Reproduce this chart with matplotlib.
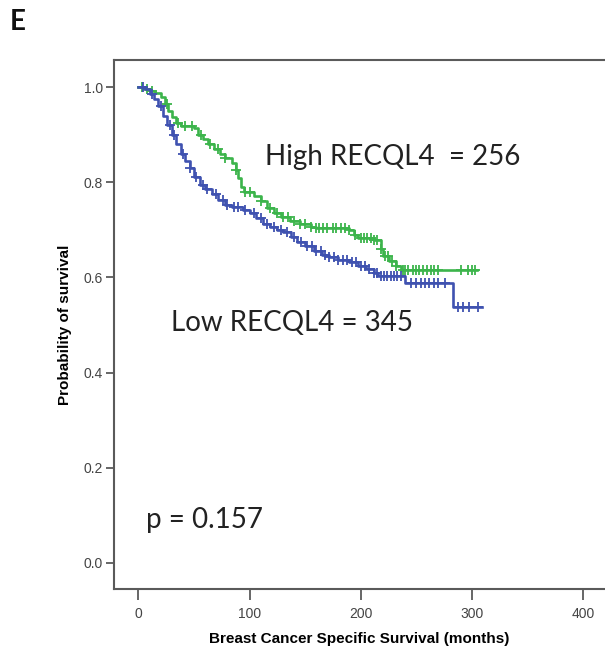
import numpy as np
import matplotlib
matplotlib.use("Agg")
import matplotlib.pyplot as plt

# Kaplan-Meier step points (months, survival probability)
high_times = [0, 5, 10, 15, 20, 24, 27, 30, 34, 38, 50, 54, 58, 63, 68, 73, 78, 84, 88, 90,
              92, 95, 104, 110, 116, 122, 128, 136, 145, 155, 160, 190, 194, 198, 212, 218,
              220, 226, 232, 236]
high_surv = [1.0, 0.996, 0.992, 0.988, 0.98, 0.965, 0.95, 0.938, 0.925, 0.918, 0.915, 0.90,
             0.89, 0.88, 0.87, 0.86, 0.85, 0.84, 0.825, 0.81, 0.79, 0.78, 0.772, 0.76, 0.745,
             0.735, 0.726, 0.718, 0.712, 0.706, 0.703, 0.70, 0.69, 0.683, 0.678, 0.66, 0.645,
             0.635, 0.625, 0.615]
high_end = 305
high_censor = [3, 8, 12, 26, 36, 42, 48, 56, 64, 72, 78, 88, 96, 100, 110, 118, 125, 130, 135,
               140, 145, 150, 155, 160, 163, 166, 170, 175, 178, 182, 186, 190, 195, 200, 203,
               206, 209, 212, 215, 218, 222, 225, 228, 232, 238, 240, 243, 247, 250, 253, 256,
               260, 263, 266, 270, 290, 297, 300, 303]

low_times = [0, 6, 10, 14, 18, 22, 26, 30, 34, 38, 42, 46, 50, 55, 60, 66, 72, 78, 84, 94,
             100, 106, 112, 118, 125, 130, 137, 143, 150, 158, 165, 172, 180, 190, 198, 205,
             212, 216, 240, 283]
low_surv = [1.0, 0.996, 0.985, 0.975, 0.96, 0.94, 0.92, 0.90, 0.88, 0.86, 0.845, 0.83, 0.812,
            0.795, 0.785, 0.775, 0.762, 0.752, 0.748, 0.742, 0.735, 0.725, 0.712, 0.705, 0.70,
            0.695, 0.685, 0.675, 0.665, 0.655, 0.648, 0.642, 0.637, 0.632, 0.625, 0.618, 0.61,
            0.604, 0.588, 0.538]
low_end = 309
low_censor = [4, 12, 20, 28, 32, 40, 46, 52, 58, 62, 70, 76, 80, 86, 90, 96, 104, 110, 116,
              122, 128, 134, 140, 146, 152, 156, 160, 164, 168, 172, 176, 180, 184, 188, 192,
              196, 200, 204, 208, 212, 215, 218, 221, 224, 227, 230, 233, 236, 245, 250, 254,
              258, 262, 266, 270, 276, 288, 292, 298, 306]

GREEN = "#3cb44b"
BLUE = "#3f52b0"


def surv_at(times, surv, t):
    idx = np.searchsorted(times, t, side="right") - 1
    return np.asarray(surv)[idx]


fig = plt.figure(figsize=(6.05, 6.5), dpi=100)
ax = fig.add_axes([0.1884, 0.0938, 0.8116, 0.8139])

for times, surv, end, cens, col in [
    (high_times, high_surv, high_end, high_censor, GREEN),
    (low_times, low_surv, low_end, low_censor, BLUE),
]:
    tx = list(times) + [end]
    sy = list(surv) + [surv[-1]]
    ax.step(tx, sy, where="post", color=col, lw=1.9)
    ax.plot(cens, surv_at(times, surv, cens), ls="none", marker="+",
            ms=6.5, mew=1.3, color=col)

ax.set_xlim(-22, 420)
ax.set_ylim(-0.055, 1.057)
ax.set_xticks([0, 100, 200, 300, 400])
ax.set_yticks([0.0, 0.2, 0.4, 0.6, 0.8, 1.0])
ax.set_yticklabels(["0.0", "0.2", "0.4", "0.6", "0.8", "1.0"])

for s in ["left", "bottom", "top"]:
    ax.spines[s].set_color("#5a5a5a")
    ax.spines[s].set_linewidth(1.5)
ax.spines["right"].set_visible(False)
ax.tick_params(axis="both", colors="#5a5a5a", labelcolor="#444444",
               labelsize=10, width=1.3)
ax.tick_params(axis="y", length=6, pad=2)
ax.tick_params(axis="x", length=8, pad=5)
for lab in ax.get_xticklabels() + ax.get_yticklabels():
    lab.set_family("Liberation Sans")

ax.set_xlabel("Breast Cancer Specific Survival (months)", family="Liberation Sans",
              fontweight="bold", fontsize=11, labelpad=8)
ax.set_ylabel("Probability of survival", family="Liberation Sans",
              fontweight="bold", fontsize=11, labelpad=8)

txt = dict(family="Lato", fontsize=20, color="#222222", va="center", ha="left")
ax.text(114, 0.853, "High RECQL4  = 256", **txt)
ax.text(29, 0.504, "Low RECQL4 = 345", **txt)
ax.text(7, 0.09, "p = 0.157", **txt)

fig.text(0.016, 0.966, "E", family="Lato", fontweight="bold", fontsize=20,
         color="#111111", va="center", ha="left")

fig.savefig("out.png", dpi=100)
